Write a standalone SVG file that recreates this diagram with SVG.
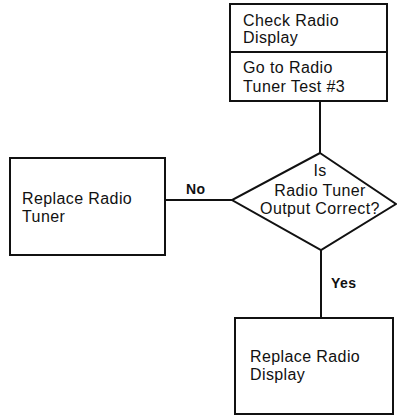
<svg xmlns="http://www.w3.org/2000/svg" width="397" height="416" viewBox="0 0 397 416">
<style>
.box{fill:#fff;stroke:#111;stroke-width:2}
.ln{fill:none;stroke:#111;stroke-width:2}
text{font-family:"Liberation Sans",Arial,sans-serif;font-size:16px;fill:#111;letter-spacing:0.4px}
.lbl{font-weight:bold;font-size:14px}
.c{text-anchor:middle}
</style>
<rect width="397" height="416" fill="#fff"/>
<g id="connectors">
<line class="ln" x1="320" y1="101" x2="320" y2="153"/>
<line class="ln" x1="165" y1="200" x2="232" y2="200"/>
<line class="ln" x1="321" y1="250" x2="321" y2="318"/>
<text class="lbl" x="186" y="194">No</text>
<text class="lbl" x="331" y="288">Yes</text>
</g>
<g id="check-display">
<rect class="box" x="230" y="4" width="157" height="97"/>
<line class="ln" x1="230" y1="52" x2="387" y2="52"/>
<text x="243" y="26">Check Radio</text>
<text x="243" y="43">Display</text>
<text x="243" y="73">Go to Radio</text>
<text x="243" y="92">Tuner Test #3</text>
</g>
<g id="decision">
<polygon class="box" points="320,153 396,204 321,250 232,200"/>
<text class="c" x="320" y="176">Is</text>
<text class="c" x="320" y="196">Radio Tuner</text>
<text class="c" x="320" y="214">Output Correct?</text>
</g>
<g id="replace-tuner">
<rect class="box" x="10" y="158" width="155" height="97"/>
<text x="22" y="204">Replace Radio</text>
<text x="22" y="222">Tuner</text>
</g>
<g id="replace-display">
<rect class="box" x="235" y="318" width="158" height="96"/>
<text x="250" y="362">Replace Radio</text>
<text x="250" y="380">Display</text>
</g>
</svg>
